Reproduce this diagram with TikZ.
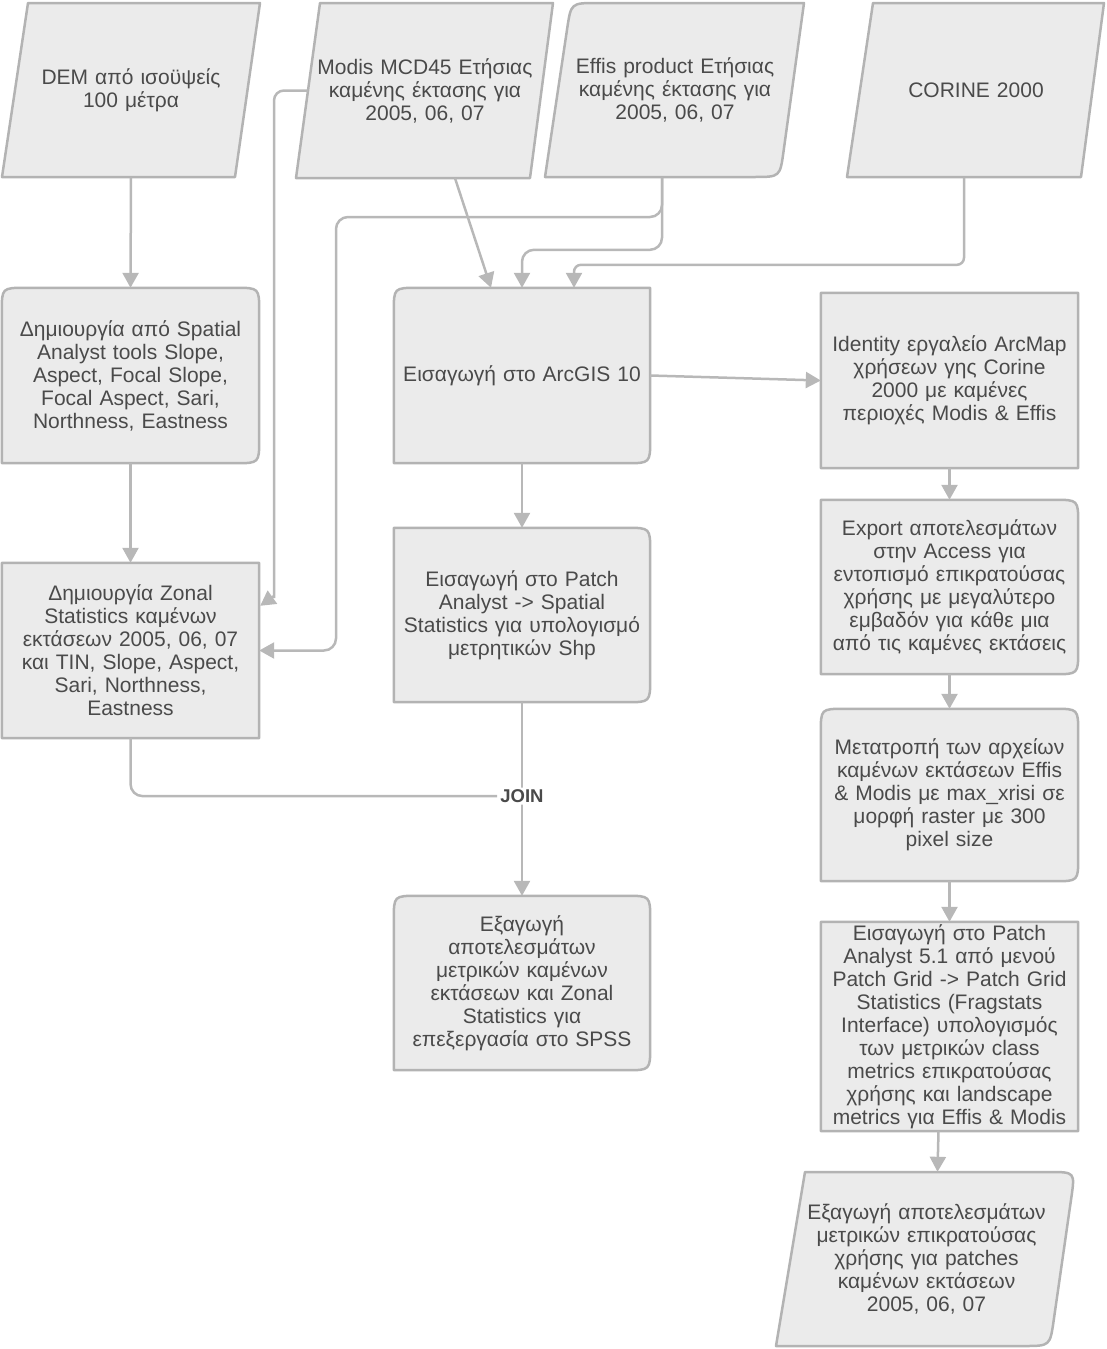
\documentclass[tikz,border=0pt]{standalone}
\usepackage{fontspec}
\setmainfont{Liberation Sans}
\usetikzlibrary{arrows.meta,calc}
\pgfdeclarelayer{bg}
\pgfsetlayers{bg,main}
\definecolor{shapefill}{HTML}{EBEBEB}
\definecolor{shapeline}{HTML}{B3B3B3}
\definecolor{connline}{HTML}{B8B8B8}
\definecolor{txt}{HTML}{4A4A4A}
\newcommand\shapeoutline[8]{%
 \filldraw[outl] ($(#1)!0.5!(#2)$) -- ($(#2)!#6!(#1)$) .. controls (#2) .. ($(#2)!#6!(#3)$)
 -- ($(#3)!#7!(#2)$) .. controls (#3) .. ($(#3)!#7!(#4)$)
 -- ($(#4)!#8!(#3)$) .. controls (#4) .. ($(#4)!#8!(#1)$)
 -- ($(#1)!#5!(#4)$) .. controls (#1) .. ($(#1)!#5!(#2)$) -- cycle;}
\tikzset{
 outl/.style={fill=shapefill, draw=shapeline, line width=2.5pt, line join=round},
 lbl/.style={align=center, inner sep=0pt, text=txt, font=\fontsize{21}{23}\selectfont,
   text width=#1, minimum height=175pt},
 lbl/.default=257pt,
 connl/.style={draw=connline, line width=2.5pt, rounded corners=12pt},
 conn/.style={connl, -{Triangle[width=16pt,length=15pt]}},
 joinlbl/.style={fill=white, inner sep=2pt, text=txt, font=\bfseries\fontsize{18.5}{18.5}\selectfont}
}
\begin{document}
\begin{tikzpicture}[x=1pt,y=-1pt]
\useasboundingbox (0,0) rectangle (1107,1349);
% text nodes
\node[lbl=233pt] (dem) at (131,90) {DEM από ισοϋψείς\\100 μέτρα};
\node[lbl=233pt] (modis) at (425,90.5) {Modis MCD45 Ετήσιας\\καμένης έκτασης για\\2005, 06, 07};
\node[lbl=233pt] (effis) at (675,90) {Effis product Ετήσιας\\καμένης έκτασης για\\2005, 06, 07};
\node[lbl=233pt] (corine) at (976,90) {CORINE 2000};
\node[lbl] (spatial) at (130.5,375.5) {Δημιουργία από Spatial\\Analyst tools Slope,\\Aspect, Focal Slope,\\Focal Aspect, Sari,\\Northness, Eastness};
\node[lbl=256pt] (arcgis) at (522,375.5) {Εισαγωγή στο ArcGIS 10};
\node[lbl] (identity) at (949.5,380.5) {Identity εργαλείο ArcMap\\χρήσεων γης Corine\\2000 με καμένες\\περιοχές Modis \& Effis};
\node[lbl] (zonal) at (130.5,650.5) {Δημιουργία Zonal\\Statistics καμένων\\εκτάσεων 2005, 06, 07\\και TIN, Slope, Aspect,\\Sari, Northness,\\Eastness};
\node[lbl=256pt, minimum height=174pt] (patch) at (522,615) {Εισαγωγή στο Patch\\Analyst -> Spatial\\Statistics για υπολογισμό\\μετρητικών Shp};
\node[lbl, minimum height=174pt] (export) at (949.5,587) {Export αποτελεσμάτων\\στην Access για\\εντοπισμό επικρατούσας\\χρήσης με μεγαλύτερο\\εμβαδόν για κάθε μια\\από τις καμένες εκτάσεις};
\node[lbl, minimum height=172pt] (convert) at (949.5,795) {Μετατροπή των αρχείων\\καμένων εκτάσεων Effis\\\& Modis με max\_xrisi σε\\μορφή raster με 300\\pixel size};
\node[lbl=256pt, minimum height=174pt] (spss) at (522,983) {Εξαγωγή\\αποτελεσμάτων\\μετρικών καμένων\\εκτάσεων και Zonal\\Statistics για\\επεξεργασία στο SPSS};
\node[lbl, minimum height=209pt] (patchgrid) at (949.5,1026.5) {Εισαγωγή στο Patch\\Analyst 5.1 από μενού\\Patch Grid -> Patch Grid\\Statistics (Fragstats\\Interface) υπολογισμός\\των μετρικών class\\metrics επικρατούσας\\χρήσης και landscape\\metrics για Effis \& Modis};
\node[lbl=250pt, minimum height=174pt] (final) at (926.5,1259) {Εξαγωγή αποτελεσμάτων\\μετρικών επικρατούσας\\χρήσης για patches\\καμένων εκτάσεων\\2005, 06, 07};
% parallelogram corners
\coordinate (demTL) at (28,3); \coordinate (demTR) at (260,3);
\coordinate (demBR) at (235,177); \coordinate (demBL) at (2,177);
\coordinate (modTL) at (320,3); \coordinate (modTR) at (553,3);
\coordinate (modBR) at (530,178); \coordinate (modBL) at (296,178);
\coordinate (effTL) at (571,3); \coordinate (effTR) at (804,3);
\coordinate (effBR) at (780,177); \coordinate (effBL) at (545,177);
\coordinate (corTL) at (873,3); \coordinate (corTR) at (1104,3);
\coordinate (corBR) at (1081,177); \coordinate (corBL) at (847,177);
\coordinate (finTL) at (805,1172); \coordinate (finTR) at (1075,1172);
\coordinate (finBR) at (1050,1346); \coordinate (finBL) at (776,1346);
\begin{pgfonlayer}{bg}
\shapeoutline{demTL}{demTR}{demBR}{demBL}{0pt}{0pt}{0pt}{0pt}
\shapeoutline{modTL}{modTR}{modBR}{modBL}{0pt}{0pt}{0pt}{0pt}
\shapeoutline{effTL}{effTR}{effBR}{effBL}{26pt}{0pt}{26pt}{0pt}
\shapeoutline{corTL}{corTR}{corBR}{corBL}{0pt}{0pt}{0pt}{0pt}
\shapeoutline{finTL}{finTR}{finBR}{finBL}{0pt}{26pt}{26pt}{0pt}
\shapeoutline{spatial.north west}{spatial.north east}{spatial.south east}{spatial.south west}{24pt}{24pt}{24pt}{0pt}
\shapeoutline{arcgis.north west}{arcgis.north east}{arcgis.south east}{arcgis.south west}{24pt}{0pt}{24pt}{0pt}
\shapeoutline{identity.north west}{identity.north east}{identity.south east}{identity.south west}{0pt}{0pt}{0pt}{0pt}
\shapeoutline{zonal.north west}{zonal.north east}{zonal.south east}{zonal.south west}{0pt}{0pt}{0pt}{0pt}
\shapeoutline{patch.north west}{patch.north east}{patch.south east}{patch.south west}{0pt}{24pt}{24pt}{0pt}
\shapeoutline{export.north west}{export.north east}{export.south east}{export.south west}{0pt}{24pt}{24pt}{0pt}
\shapeoutline{convert.north west}{convert.north east}{convert.south east}{convert.south west}{24pt}{24pt}{24pt}{0pt}
\shapeoutline{spss.north west}{spss.north east}{spss.south east}{spss.south west}{24pt}{24pt}{24pt}{0pt}
\shapeoutline{patchgrid.north west}{patchgrid.north east}{patchgrid.south east}{patchgrid.south west}{0pt}{0pt}{0pt}{0pt}
\end{pgfonlayer}
% connectors
\draw[conn] (dem.south) -- (spatial.north);
\draw[conn] (spatial.south) -- (zonal.north);
\coordinate (zin1) at ($(zonal.north east)+(1,43)$);
\draw[connl, rounded corners=10pt] (modis.west) -- (274,90.5) -- (274,598);
\draw[conn] (274,596) -- (zin1);
\draw[conn] ($(modis.south)+(30,0)$) -- ($(arcgis.north)+(-31,0)$);
\draw[conn] ($(effis.south)+(-13,0)$) |- (336,217) |- (zonal.east);
\draw[conn] ($(effis.south)+(-13,0)$) |- ($(arcgis.north)+(0,-38)$) -- (arcgis.north);
\draw[conn, rounded corners=7pt] ($(corine.south)+(-12,0)$) |- ($(arcgis.north)+(52,-23)$) -- ($(arcgis.north)+(52,0)$);
\draw[conn] (arcgis.east) -- (identity.west);
\draw[conn] (arcgis.south) -- (patch.north);
\draw[conn] (identity.south) -- (export.north);
\draw[conn] (export.south) -- (convert.north);
\draw[conn] (convert.south) -- (patchgrid.north);
\draw[conn] ($(patchgrid.south)+(-11,0)$) -- ($(final.north)+(11,0)$);
\draw[conn] (patch.south) -- node[joinlbl, pos=0.485] (join) {JOIN} (spss.north);
\draw[connl] (zonal.south) |- (join.west);
\end{tikzpicture}
\end{document}
